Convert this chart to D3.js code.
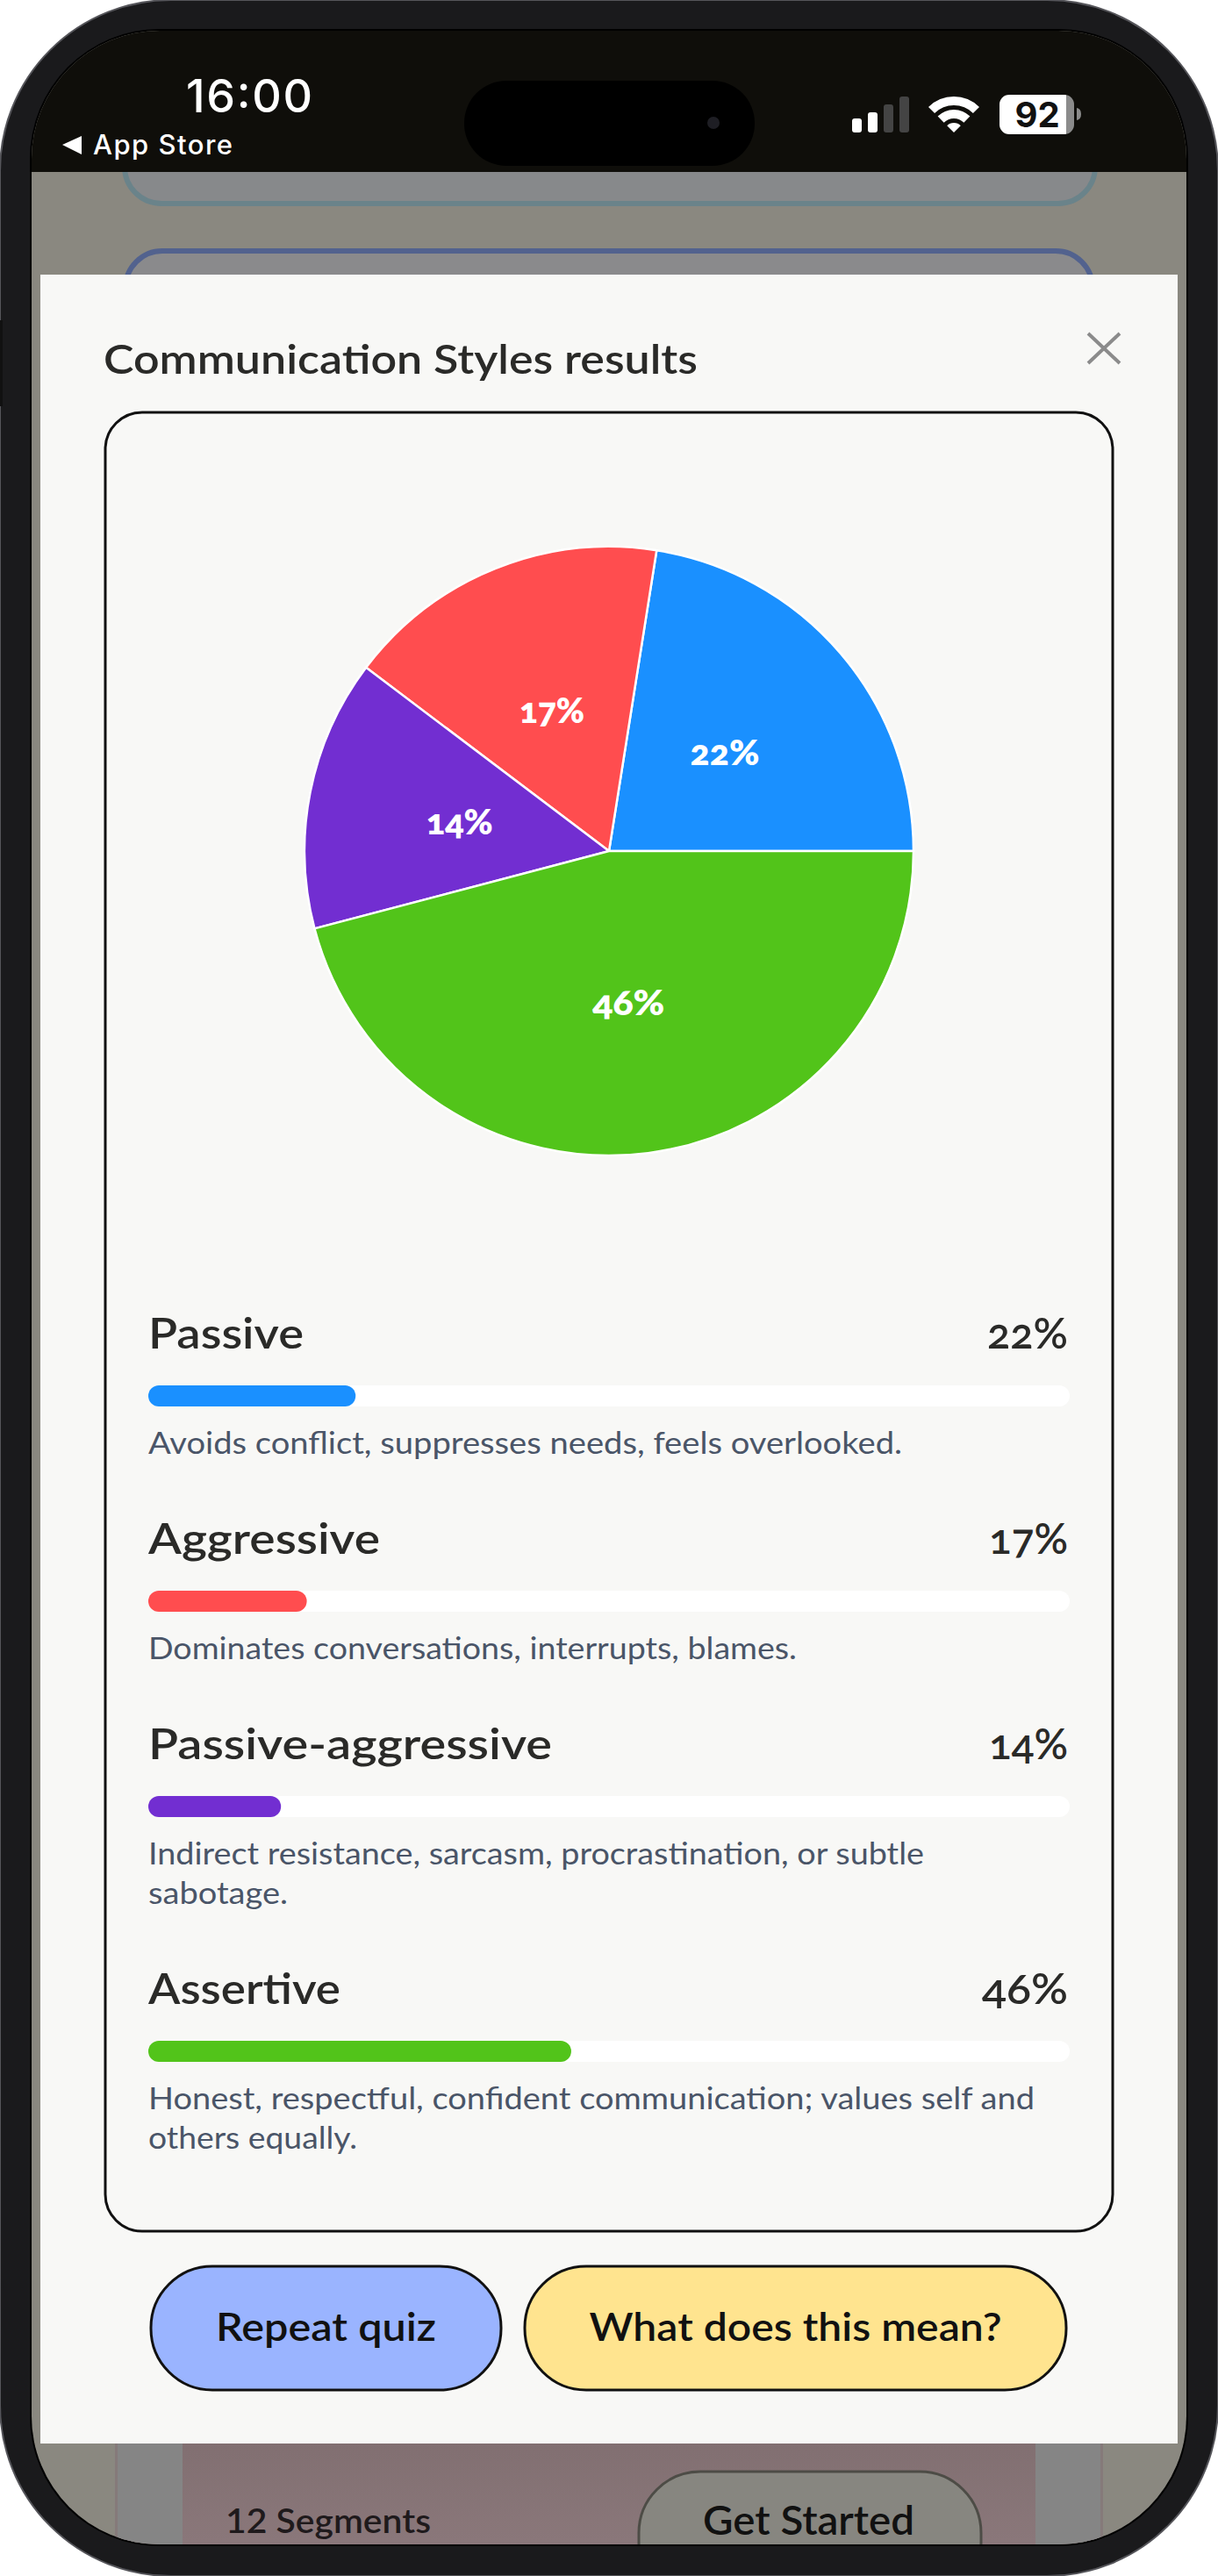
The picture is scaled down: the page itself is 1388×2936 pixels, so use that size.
<!DOCTYPE html>
<html><head><meta charset="utf-8">
<script src="https://cdn.jsdelivr.net/npm/d3@7"></script>
<style>
html,body{margin:0;padding:0;background:#fff}
svg{display:block}
text{font-family:Lato,"Open Sans",sans-serif;font-variant-numeric:oldstyle-nums}
.sys{font-family:Inter,Roboto,sans-serif;font-variant-numeric:normal}
</style></head><body>
<svg id="c" width="1388" height="2936" viewBox="0 0 1388 2936"></svg>
<script>
// DATA
const categories = ["Passive","Aggressive","Passive-aggressive","Assertive"];
const shares = [22.5,17.2,14.4,45.9];
const shareLabels = ["22%","17%","14%","46%"];
const colors = ["#1a90ff","#ff4d4f","#722ed1","#52c41a"];
const descriptions = [
  ["Avoids conflict, suppresses needs, feels overlooked."],
  ["Dominates conversations, interrupts, blames."],
  ["Indirect resistance, sarcasm, procrastination, or subtle","sabotage."],
  ["Honest, respectful, confident communication; values self and","others equally."]
];
const titleText = "Communication Styles results";
const buttonLabels = ["Repeat quiz","What does this mean?"];

// LAYOUT
const svg = d3.select("#c");
const defs = svg.append("defs");
const W=1388,H=2936;
const barX = d3.scaleLinear().domain([0,100]).range([169,1219]);
const labelW=[177,264,460,219], pctW=[92,90,90,98], pieLabelW=[79,74,76,82];
const descW=[[859],[739],[884,159],[1010,238]];
const rowBase=[1537,1771,2005,2284];
const FIT="spacingAndGlyphs";

function txt(g,s,x,y,size,weight,fill,opt={}){
  const t=g.append("text").attr("x",x).attr("y",y).attr("font-size",size).attr("font-weight",weight).attr("fill",fill).text(s);
  if(opt.anchor)t.attr("text-anchor",opt.anchor);
  if(opt.len){t.attr("textLength",opt.len).attr("lengthAdjust",opt.adj||FIT);}
  if(opt.cls)t.attr("class",opt.cls);
  return t;
}

// phone body
svg.append("rect").attr("width",W).attr("height",H).attr("rx",195).attr("fill","#1a1a1c").attr("stroke","#55555a").attr("stroke-width",2);
svg.append("rect").attr("x",0).attr("y",365).attr("width",3).attr("height",98).attr("fill","#111");
svg.append("rect").attr("x",34).attr("y",33).attr("width",1320).attr("height",2869).attr("rx",148).attr("fill","#000");
defs.append("clipPath").attr("id","scr").append("rect").attr("x",36).attr("y",35).attr("width",1316).attr("height",2865).attr("rx",146);
const s=svg.append("g").attr("clip-path","url(#scr)");
// backdrop
s.append("rect").attr("x",30).attr("y",30).attr("width",1330).attr("height",2880).attr("fill","#8a8880");
// cards behind
s.append("rect").attr("x",142).attr("y",100).attr("width",1106).attr("height",132).attr("rx",42).attr("fill","#87898b").attr("stroke","#6a838a").attr("stroke-width",6);
s.append("rect").attr("x",143).attr("y",286).attr("width",1102).attr("height",200).attr("rx",42).attr("fill","#8a8a8c").attr("stroke","#52628e").attr("stroke-width",6);
s.append("rect").attr("x",131).attr("y",2780).attr("width",1126).attr("height",130).attr("fill","#857a7a");
s.append("rect").attr("x",134).attr("y",2780).attr("width",1120).attr("height",130).attr("fill","#858585");
const bgGrad=defs.append("linearGradient").attr("id","pk").attr("x1",0).attr("y1",0).attr("x2",0).attr("y2",1);
bgGrad.append("stop").attr("offset",0).attr("stop-color","#816f71");
bgGrad.append("stop").attr("offset",1).attr("stop-color","#8b787b");
s.append("rect").attr("x",208).attr("y",2780).attr("width",972).attr("height",130).attr("fill","url(#pk)");
s.append("rect").attr("x",728).attr("y",2817).attr("width",390).attr("height",150).attr("rx",70).attr("fill","#878680").attr("stroke","#4d4c46").attr("stroke-width",3);
txt(s,"12 Segments",257,2887,38,600,"#1f1a1c",{len:234}).style("font-variant-numeric","lining-nums");
txt(s,"Get Started",801,2889,46,600,"#111",{len:241});
// status bar
s.append("rect").attr("x",30).attr("y",30).attr("width",1330).attr("height",166).attr("fill","#0f0e0a");
s.append("rect").attr("x",529).attr("y",92).attr("width",331).attr("height",97).attr("rx",48).attr("fill","#000");
s.append("circle").attr("cx",813).attr("cy",140).attr("r",7).attr("fill","#1e1e24");
txt(s,"16:00",212,128,52,500,"#fff",{cls:"sys",len:144,adj:"spacing"});
s.append("path").attr("d",d3.line()([[71,165],[93,155],[93,176]])+"Z").attr("fill","#fff");
txt(s,"App Store",106,176,31,500,"#fff",{cls:"sys",len:159,adj:"spacing"});
// signal
[[971,135,"#fff"],[989,128,"#fff"],[1007,119,"#444"],[1025,110,"#444"]].forEach(b=>{
  s.append("rect").attr("x",b[0]).attr("y",b[1]).attr("width",11).attr("height",151-b[1]).attr("rx",3).attr("fill",b[2]);
});
// wifi
const a=Math.PI/4;
[[31,41],[16,26],[0,11]].forEach(r=>{
  s.append("path").attr("transform","translate(1087,151)").attr("fill","#fff")
   .attr("d",d3.arc().innerRadius(r[0]).outerRadius(r[1]).startAngle(-a).endAngle(a)());
});
// battery
defs.append("clipPath").attr("id","bat").append("rect").attr("x",1139).attr("y",108).attr("width",85).attr("height",45).attr("rx",11);
const bat=s.append("g").attr("clip-path","url(#bat)");
bat.append("rect").attr("x",1139).attr("y",108).attr("width",76).attr("height",45).attr("fill","#fff");
bat.append("rect").attr("x",1215).attr("y",108).attr("width",9).attr("height",45).attr("fill","#8b8b8b");
s.append("path").attr("d","M1227,123a6,7 0 0 1 5,7a6,7 0 0 1 -5,7Z").attr("fill","#8b8b8b");
txt(s,"92",1182,145,40,700,"#111",{cls:"sys",anchor:"middle"});
// modal
s.append("rect").attr("x",46).attr("y",313).attr("width",1296).attr("height",2472).attr("fill","#f8f8f6");
txt(s,titleText,118,426,46,600,"#2a2a28",{len:677});
s.append("path").attr("d","M1240,380L1276,414M1276,380L1240,414").attr("stroke","#8b8b8b").attr("stroke-width",4).attr("fill","none");
// panel
s.append("rect").attr("x",120).attr("y",470).attr("width",1148).attr("height",2073).attr("rx",42).attr("fill","#f8f8f6").attr("stroke","#111").attr("stroke-width",3);
// pie
const pie=d3.pie().sort(null).startAngle(Math.PI/2).endAngle(Math.PI/2-2*Math.PI);
const arc=d3.arc().innerRadius(0).outerRadius(347);
const pg=s.append("g").attr("transform","translate(694,970)");
const arcs=pie(shares);
pg.selectAll("path").data(arcs).join("path").attr("d",arc).attr("fill",(d,i)=>colors[i]).attr("stroke","#fff").attr("stroke-width",2.5);
pg.selectAll("text").data(arcs).join("text")
  .attr("x",d=>arc.centroid(d)[0]).attr("y",d=>arc.centroid(d)[1]+15)
  .attr("text-anchor","middle").attr("font-size",40).attr("font-weight",800).attr("fill","#fff")
  .attr("textLength",(d,i)=>pieLabelW[i]).attr("lengthAdjust",FIT)
  .text((d,i)=>shareLabels[i]);
// rows
categories.forEach((c,i)=>{
  const y=rowBase[i], g=s.append("g");
  txt(g,c,169,y,48,600,"#2a2a28",{len:labelW[i]});
  txt(g,shareLabels[i],1217,y,48,600,"#2a2a28",{anchor:"end",len:pctW[i]});
  const by=y+42;
  g.append("rect").attr("x",barX(0)).attr("y",by).attr("width",barX(100)-barX(0)).attr("height",24).attr("rx",12).attr("fill","#fff");
  g.append("rect").attr("x",barX(0)).attr("y",by).attr("width",barX(shares[i])-barX(0)).attr("height",24).attr("rx",12).attr("fill",colors[i]);
  descriptions[i].forEach((l,k)=>{
    txt(g,l,169,y+120+k*45,35,400,"#4a5568",{len:descW[i][k]});
  });
});
// buttons
[[171,401,"#9ab4ff"],[597,619,"#ffe48f"]].forEach((b,i)=>{
  s.append("rect").attr("x",b[0]+1).attr("y",2583).attr("width",b[1]-2).attr("height",141).attr("rx",70).attr("fill",b[2]).attr("stroke","#111").attr("stroke-width",3);
  txt(s,buttonLabels[i],b[0]+b[1]/2,2668,44,600,"#111",{anchor:"middle",len:i?470:251});
});
</script></body></html>
